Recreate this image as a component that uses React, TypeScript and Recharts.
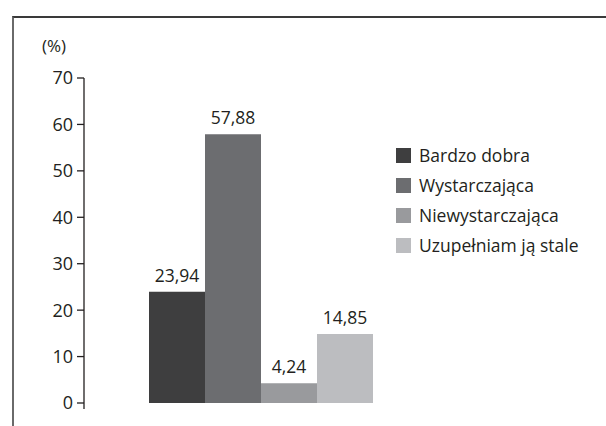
import { BarChart, Bar, XAxis, YAxis, LabelList } from "recharts";

const CATEGORIES = ["Ocena"];
const SERIES_NAMES = [
  "Bardzo dobra",
  "Wystarczająca",
  "Niewystarczająca",
  "Uzupełniam ją stale",
];
const SERIES_VALUES = [23.94, 57.88, 4.24, 14.85];
const Y_TICKS = [0, 10, 20, 30, 40, 50, 60, 70];

// greys from dark to light, like the printed original
const COLORS = ["#3e3e3f", "#6c6d70", "#999a9d", "#bcbdc0"];

const FONT = "'Open Sans', sans-serif";
const TEXT = "#231f20";

const data = CATEGORIES.map((name) => {
  const row: Record<string, string | number> = { name };
  SERIES_VALUES.forEach((v, i) => {
    row[`s${i}`] = v;
  });
  return row;
});

const fmt = (v: unknown) => String(v).replace(".", ",");

type TickProps = {
  x?: number;
  y?: number;
  payload?: { value: number };
};

// y tick label; the zero tick also carries the small overhang of the axis below the baseline
function YTick({ x = 0, y = 0, payload }: TickProps) {
  const axisX = x + 11;
  return (
    <g>
      <text
        x={x}
        y={y}
        dy="0.36em"
        textAnchor="end"
        fontFamily={FONT}
        fontSize={18}
        fill={TEXT}
      >
        {payload?.value}
      </text>
      {payload?.value === 0 && (
        <line x1={axisX} y1={y} x2={axisX} y2={y + 6} stroke="#231f20" strokeWidth={1.3} />
      )}
    </g>
  );
}

function LegendBox() {
  return (
    <div
      style={{
        position: "absolute",
        left: 396,
        top: 140,
        fontFamily: FONT,
        fontSize: 17.5,
        color: TEXT,
      }}
    >
      {SERIES_NAMES.map((name, i) => (
        <div
          key={name}
          style={{ display: "flex", alignItems: "center", height: 30 }}
        >
          <span
            style={{
              display: "inline-block",
              width: 15,
              height: 15,
              background: COLORS[i],
              marginRight: 8,
            }}
          />
          <span>{name}</span>
        </div>
      ))}
    </div>
  );
}

export default function App() {
  return (
    <div
      style={{
        position: "absolute",
        left: 0,
        top: 0,
        width: 606,
        height: 426,
        background: "#fff",
        overflow: "hidden",
      }}
    >
      <div
        style={{
          position: "absolute",
          left: 12,
          top: 16,
          width: 620,
          height: 440,
          borderLeft: "2px solid #6a6a6a",
          borderTop: "2px solid #3a3a3a",
        }}
      />
      <div
        style={{
          position: "absolute",
          left: 42,
          top: 34,
          fontFamily: FONT,
          fontSize: 17,
          color: TEXT,
        }}
      >
        (%)
      </div>
      <div style={{ position: "absolute", left: 0, top: 0 }}>
        <BarChart
          width={606}
          height={426}
          data={data}
          margin={{ top: 78, right: 169, bottom: 23, left: 0 }}
          barCategoryGap={65}
          barGap={0}
        >
          <XAxis
            dataKey="name"
            height={0}
            tick={false}
            tickLine={false}
            axisLine={{ stroke: "#231f20", strokeWidth: 1.3 }}
          />
          <YAxis
            width={84}
            domain={[0, 70]}
            ticks={Y_TICKS}
            interval={0}
            tickSize={7}
            tickMargin={4}
            tick={<YTick />}
            tickLine={{ stroke: "#231f20", strokeWidth: 1.3 }}
            axisLine={{ stroke: "#231f20", strokeWidth: 1.3 }}
          />
          {SERIES_NAMES.map((name, i) => (
            <Bar
              key={name}
              dataKey={`s${i}`}
              name={name}
              fill={COLORS[i]}
              isAnimationActive={false}
            >
              <LabelList
                dataKey={`s${i}`}
                position="top"
                offset={10}
                formatter={fmt}
                style={{ fontFamily: FONT, fontSize: 17.5, fill: TEXT }}
              />
            </Bar>
          ))}
        </BarChart>
      </div>
      <LegendBox />
    </div>
  );
}
